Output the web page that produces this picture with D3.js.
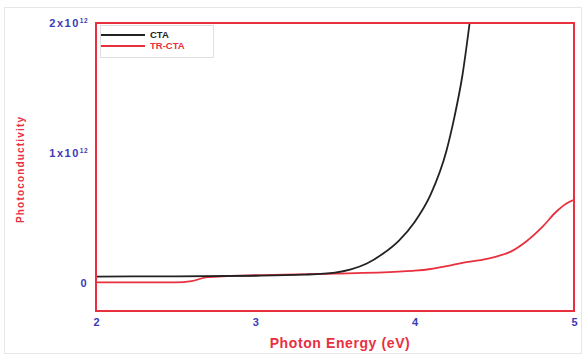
<!DOCTYPE html>
<html>
<head>
<meta charset="utf-8">
<script src="https://cdn.jsdelivr.net/npm/d3@7"></script>
<style>
  body { margin: 0; background: #fff; }
  svg { display: block; font-family: Arial, "Liberation Sans", sans-serif; }
</style>
</head>
<body>
<svg id="chart" width="584" height="356"></svg>
<script>
// Photon energy (eV) and photoconductivity (units of 1e12)
const ctaEnergy = [2.0, 2.5, 3.0, 3.3, 3.5, 3.6, 3.7, 3.8, 3.9, 4.0, 4.1, 4.2, 4.25, 4.3, 4.345, 4.38];
const ctaValue  = [0.05, 0.052, 0.056, 0.064, 0.08, 0.105, 0.15, 0.225, 0.325, 0.47, 0.68, 1.02, 1.28, 1.6, 2.0, 2.35];

const trEnergy = [2.0, 2.5, 2.6, 2.7, 3.0, 3.5, 3.9, 4.0, 4.1, 4.2, 4.3, 4.43, 4.5, 4.6, 4.7, 4.8, 4.89, 4.95, 5.0];
const trValue  = [0.005, 0.005, 0.015, 0.045, 0.06, 0.072, 0.088, 0.095, 0.108, 0.13, 0.155, 0.18, 0.2, 0.24, 0.32, 0.43, 0.55, 0.61, 0.64];

const xTicks = [2, 3, 4, 5];
const yTicks = [0, 1, 2];
const yTickLabels = ["0", "1x10", "2x10"];
const yTickExp = ["", "12", "12"];

const seriesNames = ["CTA", "TR-CTA"];
const seriesColors = ["#222222", "#e8303f"];

(function () {
  const svg = d3.select("#chart");
  const frameColor = "#e8303f";
  const tickColor = "#3a3ab8";

  const mLeft = 96, mRight = 574, mTop = 23, mBottom = 311;

  const x = d3.scaleLinear().domain([2, 5]).range([mLeft, mRight]);
  const y = d3.scaleLinear().domain([-0.215, 2]).range([mBottom, mTop]);

  // faint outer border of the figure
  svg.append("rect").attr("x", 4.5).attr("y", 7.5).attr("width", 577).attr("height", 346)
    .attr("fill", "none").attr("stroke", "#e6e6e6").attr("stroke-width", 1);

  svg.append("clipPath").attr("id", "plotClip")
    .append("rect").attr("x", mLeft).attr("y", mTop).attr("width", mRight - mLeft).attr("height", mBottom - mTop);

  const line = d3.line().x(d => x(d[0])).y(d => y(d[1])).curve(d3.curveMonotoneX);

  const plot = svg.append("g").attr("clip-path", "url(#plotClip)");
  plot.append("path")
    .datum(trEnergy.map((e, i) => [e, trValue[i]]))
    .attr("d", line).attr("fill", "none").attr("stroke", seriesColors[1]).attr("stroke-width", 1.8);
  plot.append("path")
    .datum(ctaEnergy.map((e, i) => [e, ctaValue[i]]))
    .attr("d", line).attr("fill", "none").attr("stroke", seriesColors[0]).attr("stroke-width", 1.8);

  // frame
  svg.append("rect").attr("x", mLeft).attr("y", mTop).attr("width", mRight - mLeft).attr("height", mBottom - mTop)
    .attr("fill", "none").attr("stroke", frameColor).attr("stroke-width", 2);

  // x axis labels
  const xAxis = d3.axisBottom(x).tickValues(xTicks).tickSize(0).tickPadding(6).tickFormat(d3.format("d"));
  const gx = svg.append("g").attr("transform", `translate(0,${mBottom + 1})`).call(xAxis);
  gx.select(".domain").remove();
  gx.selectAll("text").attr("fill", tickColor).attr("font-size", 11).attr("font-weight", "bold")
    .attr("font-family", "Arial, 'Liberation Sans', sans-serif");

  // y axis labels with superscript exponent
  const gy = svg.append("g");
  yTicks.forEach((v, i) => {
    const t = gy.append("text")
      .attr("x", mLeft - 8).attr("y", y(v)).attr("dy", "0.35em")
      .attr("text-anchor", "end").attr("fill", tickColor)
      .attr("font-size", 11).attr("font-weight", "bold").attr("letter-spacing", 1.5);
    t.append("tspan").text(yTickLabels[i]);
    if (yTickExp[i]) {
      t.append("tspan").attr("dy", "-0.55em").attr("font-size", 6.5).attr("letter-spacing", 0.5).text(yTickExp[i]);
    }
  });

  // axis titles
  svg.append("text").attr("x", 340).attr("y", 348)
    .attr("text-anchor", "middle").attr("fill", frameColor)
    .attr("font-size", 14).attr("font-weight", "bold").attr("letter-spacing", 0.6)
    .text("Photon Energy (eV)");
  svg.append("text").attr("transform", "translate(24,170) rotate(-90)")
    .attr("text-anchor", "middle").attr("fill", frameColor)
    .attr("font-size", 10).attr("font-weight", "bold")
    .attr("textLength", 106).attr("lengthAdjust", "spacing")
    .text("Photoconductivity");

  // legend
  const lg = svg.append("g");
  lg.append("rect").attr("x", 100.5).attr("y", 25.5).attr("width", 113).attr("height", 32)
    .attr("fill", "#fff").attr("stroke", "#d8d8d8").attr("stroke-width", 0.8);
  seriesNames.forEach((n, i) => {
    const yy = 35 + i * 11;
    lg.append("line").attr("x1", 101).attr("x2", 145).attr("y1", yy).attr("y2", yy)
      .attr("stroke", seriesColors[i]).attr("stroke-width", 1.8);
    lg.append("text").attr("x", 150).attr("y", yy).attr("dy", "0.35em")
      .attr("fill", seriesColors[i]).attr("font-size", 9.5).attr("font-weight", "bold").text(n);
  });
})();
</script>
</body>
</html>
